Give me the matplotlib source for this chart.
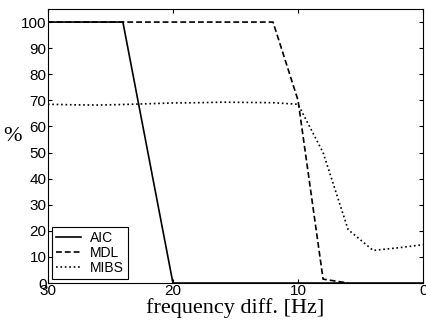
import matplotlib
matplotlib.use('Agg')
from matplotlib import pyplot as plt

# frequency difference [Hz] and detection rate [%]
aic_f = [30, 28, 26, 24, 22, 20, 18, 16, 14, 12, 10, 8, 6, 4, 2, 0]
aic_p = [100, 100, 100, 100, 50, 0, 0, 0, 0, 0, 0, 0, 0, 0, 0, 0]
mdl_f = [30, 28, 26, 24, 22, 20, 18, 16, 14, 12, 10, 8, 6]
mdl_p = [100, 100, 100, 100, 100, 100, 100, 100, 100, 100, 70, 1.5, 0]
mibs_f = [30, 28, 26, 24, 22, 20, 18, 16, 14, 12, 10, 8, 6, 4, 2, 0]
mibs_p = [68.5, 68.3, 68.2, 68.4, 68.7, 69.0, 69.1, 69.3, 69.2, 69.1, 68.5, 50.0, 20.5, 12.5, 13.5, 14.7]

plt.rcParams['font.family'] = ['Liberation Sans', 'DejaVu Sans']
fig = plt.figure(figsize=(4.27, 3.22), dpi=100)
ax = fig.add_axes([0.112, 0.121, 0.879, 0.851])
ax.plot(aic_f, aic_p, color='black', linestyle='-', linewidth=1.2, label='AIC')
ax.plot(mdl_f, mdl_p, color='black', linestyle='--', linewidth=1.2, dashes=(3.5, 1.8), label='MDL')
ax.plot(mibs_f, mibs_p, color='black', linestyle=':', linewidth=1.2, label='MIBS')
ax.set_xlim(30, 0)
ax.set_ylim(0, 105)
ax.set_xticks([30, 20, 10, 0])
ax.set_yticks(range(0, 101, 10))
ax.tick_params(direction='in', top=True, right=True, labelsize=11, length=3, pad=1)
ax.set_xlabel('frequency diff. [Hz]', fontsize=16, family='Liberation Serif', labelpad=0)
ax.set_ylabel('%', fontsize=16, family='Liberation Serif', rotation=0, labelpad=6)
leg = ax.legend(loc='lower left', fontsize=10, fancybox=False, edgecolor='black',
                framealpha=1, handlelength=1.8, handletextpad=0.6, borderpad=0.3,
                borderaxespad=0.3, labelspacing=0.05)
leg.get_frame().set_linewidth(0.8)
fig.savefig('out.png', dpi=100)
